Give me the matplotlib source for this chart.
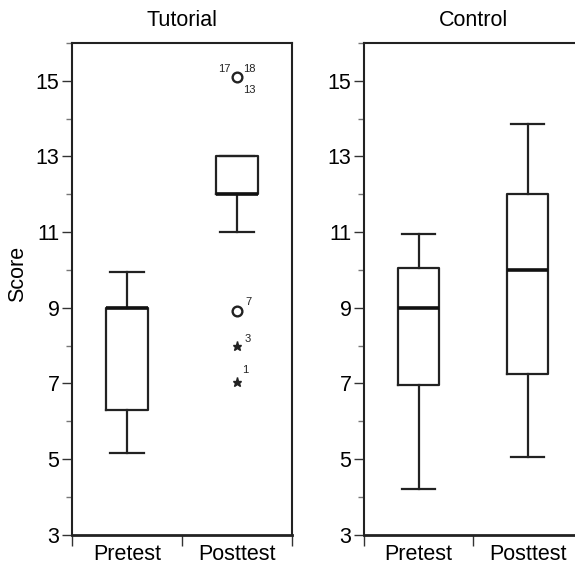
import matplotlib
matplotlib.use("Agg")
import matplotlib.pyplot as plt
import numpy as np

plt.rcParams['font.family'] = ['Liberation Sans', 'DejaVu Sans']

# ---------------- data ----------------
panels = ["Tutorial", "Control"]
categories = ["Pretest", "Posttest"]

# box statistics per panel: [Pretest, Posttest]
tut_whislo = [5.15, 11.0]
tut_q1 = [6.3, 12.0]
tut_med = [9.0, 12.02]
tut_q3 = [9.0, 13.0]
tut_whishi = [9.95, 13.0]

con_whislo = [4.2, 5.05]
con_q1 = [6.95, 7.25]
con_med = [9.0, 10.0]
con_q3 = [10.05, 12.0]
con_whishi = [10.95, 13.85]

# Tutorial posttest outliers
circle_vals = [15.1, 8.9]
circle_labels = [["17", "18", "13"], ["7"]]
star_vals = [8.0, 7.03]
star_labels = ["3", "1"]

y_major = [3, 5, 7, 9, 11, 13, 15]
y_minor = [4, 6, 8, 10, 12, 14, 16]

# ---------------- figure ----------------
W, H = 575, 569
fig = plt.figure(figsize=(W / 100, H / 100), dpi=100)

ax1 = fig.add_axes([72 / W, 34.4 / H, 220 / W, 491.6 / H])
ax2 = fig.add_axes([364 / W, 34.4 / H, 218 / W, 491.6 / H])

positions = [0.5, 1.5]
FS = 15.5


def stats(wl, q1, md, q3, wh):
    return [dict(whislo=wl[i], q1=q1[i], med=md[i], q3=q3[i], whishi=wh[i], fliers=[])
            for i in range(len(wl))]


def draw(ax, st, title):
    ax.bxp(st, positions=positions, widths=0.38, showfliers=False,
           boxprops=dict(color="#222222", linewidth=1.6),
           whiskerprops=dict(color="#222222", linewidth=1.6),
           capprops=dict(color="#222222", linewidth=1.6),
           medianprops=dict(color="#111111", linewidth=2.6),
           capwidths=0.31, manage_ticks=False)
    ax.set_xlim(0, 2)
    ax.set_ylim(3, 16)
    ax.set_xticks([0, 1, 2])
    ax.set_xticklabels([])
    ax.set_xticks(positions, minor=True)
    ax.set_xticklabels(categories, minor=True, fontsize=FS)
    ax.tick_params(axis="x", which="major", direction="out", length=8, width=1.0, color="#333333")
    ax.tick_params(axis="x", which="minor", length=0, pad=7)
    ax.set_yticks(y_major)
    ax.set_yticks(y_minor, minor=True)
    ax.set_yticklabels([str(v) for v in y_major], fontsize=FS)
    ax.tick_params(axis="y", which="major", direction="out", length=7, width=1.0, color="#333333", pad=2)
    ax.tick_params(axis="y", which="minor", direction="out", length=4, width=1.0, color="#777777")
    for s in ax.spines.values():
        s.set_linewidth(1.5)
        s.set_color("#222222")
    ax.spines["bottom"].set_linewidth(2.0)
    ax.set_title(title, fontsize=FS, pad=12)


draw(ax1, stats(tut_whislo, tut_q1, tut_med, tut_q3, tut_whishi), panels[0])
draw(ax2, stats(con_whislo, con_q1, con_med, con_q3, con_whishi), panels[1])

ax1.set_ylabel("Score", fontsize=FS)
ax1.yaxis.set_label_coords(-0.2, 0.53)

# outliers
xo = positions[1]
ax1.plot([xo] * len(circle_vals), circle_vals, linestyle="none", marker="o",
         markersize=7, markerfacecolor="white", markeredgecolor="#222222",
         markeredgewidth=1.7)
ax1.plot([xo] * len(star_vals), star_vals, linestyle="none", marker="*",
         markersize=6.5, color="#222222")

lab_kw = dict(textcoords="offset points", fontsize=8, ha="center", va="center", color="#222222")
# labels around top circle
ax1.annotate(circle_labels[0][0], (xo, circle_vals[0]), xytext=(-9.5, 5.5), **lab_kw)
ax1.annotate(circle_labels[0][1], (xo, circle_vals[0]), xytext=(9, 5.5), **lab_kw)
ax1.annotate(circle_labels[0][2], (xo, circle_vals[0]), xytext=(9, -9.5), **lab_kw)
ax1.annotate(circle_labels[1][0], (xo, circle_vals[1]), xytext=(8.5, 7), **lab_kw)
ax1.annotate(star_labels[0], (xo, star_vals[0]), xytext=(7.5, 5), **lab_kw)
ax1.annotate(star_labels[1], (xo, star_vals[1]), xytext=(6, 8.5), **lab_kw)

fig.savefig("out.png", dpi=100)
